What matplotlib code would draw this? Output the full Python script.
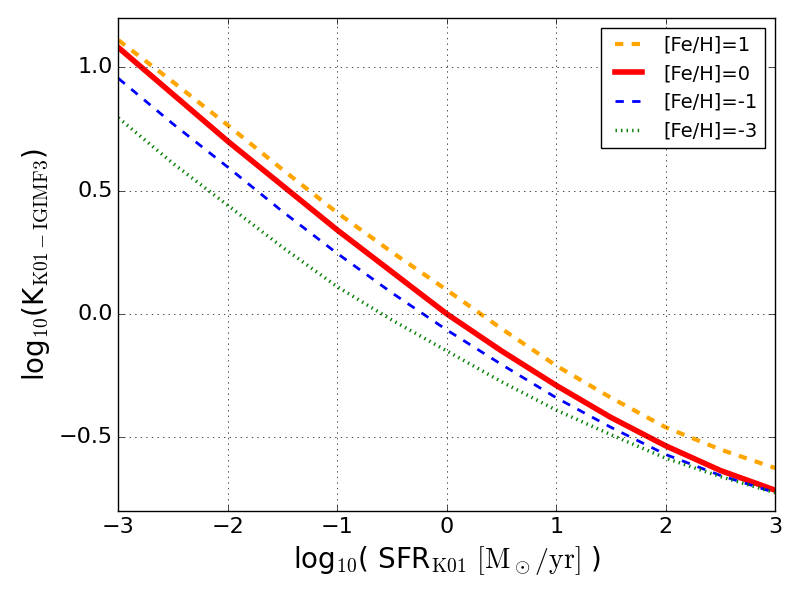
import matplotlib
matplotlib.use('Agg')
import matplotlib.pyplot as plt

#data (log10 SFR grid in steps of 0.5)
LOG_SFR = [-3.0, -2.5, -2.0, -1.5, -1.0, -0.5, 0.0, 0.5, 1.0, 1.5, 2.0, 2.5, 3.0]
FEH_P1 = [1.11, 0.94, 0.765, 0.585, 0.41, 0.25, 0.097, -0.06, -0.21, -0.34, -0.46, -0.55, -0.625]
FEH_0 = [1.08, 0.89, 0.70, 0.52, 0.34, 0.17, 0.0, -0.15, -0.29, -0.42, -0.535, -0.635, -0.715]
FEH_M1 = [0.955, 0.77, 0.595, 0.415, 0.245, 0.085, -0.065, -0.205, -0.34, -0.46, -0.57, -0.655, -0.725]
FEH_M3 = [0.795, 0.61, 0.44, 0.27, 0.11, -0.025, -0.15, -0.275, -0.39, -0.49, -0.585, -0.66, -0.725]

plt.style.use('classic')
plt.rcParams['mathtext.fontset'] = 'cm'

fig = plt.figure(figsize=(8, 6), dpi=100)
ax = fig.add_subplot(111)

ax.plot(LOG_SFR, FEH_P1, color='orange', linestyle='--', linewidth=3, label='[Fe/H]=1')
ax.plot(LOG_SFR, FEH_0, color='red', linestyle='-', linewidth=4, label='[Fe/H]=0')
ax.plot(LOG_SFR, FEH_M1, color='blue', linestyle='--', linewidth=2, label='[Fe/H]=-1')
ax.plot(LOG_SFR, FEH_M3, color='green', linestyle=':', linewidth=2.5, label='[Fe/H]=-3')

ax.set_xlim(-3, 3)
ax.set_ylim(-0.8, 1.2)
ax.set_xticks([-3, -2, -1, 0, 1, 2, 3])
ax.set_yticks([-0.5, 0.0, 0.5, 1.0])
ax.tick_params(labelsize=16)
ax.grid(True)

ax.set_xlabel(r'log$_{10}$( SFR$_{\rm K01}$ $[\rm M_\odot/yr]$ )', fontsize=20)
ax.set_ylabel(r'log$_{10}$(K$_{\rm K01-IGIMF3}$)', fontsize=20)

ax.legend(loc='upper right', fontsize=14)

fig.subplots_adjust(left=0.148, right=0.969, top=0.97, bottom=0.148)
fig.savefig('out.png', dpi=100)
